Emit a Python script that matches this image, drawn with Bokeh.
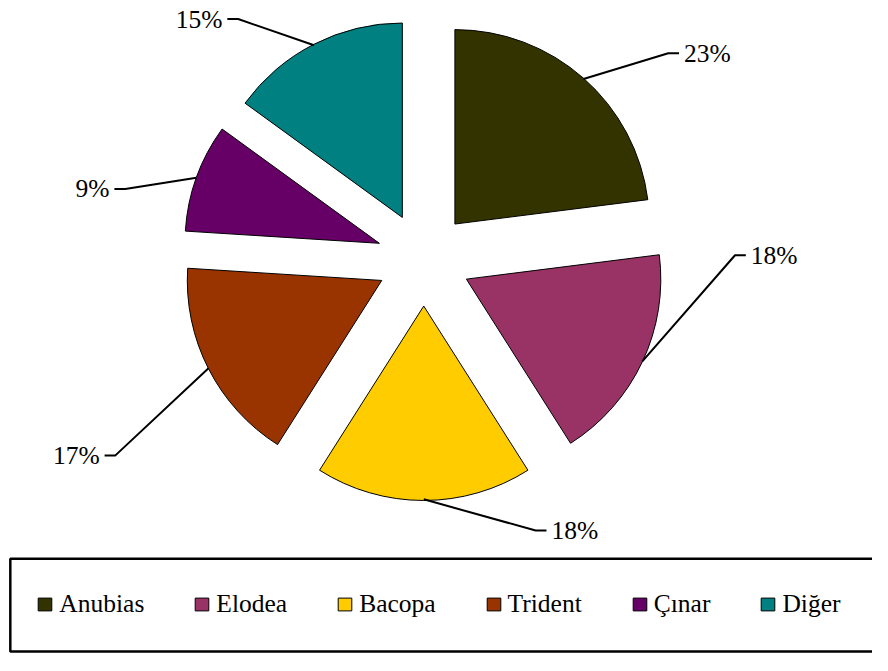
import math
from bokeh.plotting import figure
from bokeh.models import ColumnDataSource, Range1d, Legend, LegendItem
from bokeh.core.properties import value
from bokeh.embed import file_html
from bokeh.resources import INLINE

# ---- data ----
names = ["Anubias", "Elodea", "Bacopa", "Trident", "Çınar", "Diğer"]
shares = [23, 18, 18, 17, 9, 15]
colors = ["#333300", "#993366", "#FFCC00", "#993300", "#660066", "#008080"]

# ---- layout: data units are reference pixels (888 x 671), canvas scaled to fit ----
RW, RH = 888, 671
W, H = 872, 655
SX, SY = W / RW, H / RH
def dx(px): return px
def dy(py): return RH - py

CX, CY = dx(431), dy(265)
R = 198
EXPLODE = 48
# elbow points of the leader lines (reference px)
label_elbows = [(680, 54), (748, 261), (545, 543), (117, 466), (127, 193), (242, 19)]
TICK = 11
GAP = 5
FONT = "Liberation Serif"
FSIZE = "25.5px"

p = figure(width=W, height=H, output_backend="svg", toolbar_location=None,
           x_range=Range1d(0, RW), y_range=Range1d(0, RH),
           min_border=0, outline_line_color=None)
p.axis.visible = False
p.xgrid.visible = False
p.ygrid.visible = False

total = float(sum(shares))
cum = 0.0
xs, ys, starts, ends = [], [], [], []
lx, ly, lalign, ltext = [], [], [], []
leader_xs, leader_ys = [], []
for i, v in enumerate(shares):
    t0 = cum / total * 2 * math.pi
    t1 = (cum + v) / total * 2 * math.pi
    cum += v
    tm = (t0 + t1) / 2
    ex = CX + EXPLODE * math.sin(tm)
    ey = CY + EXPLODE * math.cos(tm)
    xs.append(ex); ys.append(ey)
    starts.append(math.pi / 2 - t1)
    ends.append(math.pi / 2 - t0)
    sx = ex + R * math.sin(tm)
    sy = ey + R * math.cos(tm)
    bx, by = dx(label_elbows[i][0]), dy(label_elbows[i][1])
    right = math.sin(tm) > 0
    tx = bx + TICK if right else bx - TICK
    leader_xs.append([sx, bx, tx]); leader_ys.append([sy, by, by])
    lx.append(tx + GAP if right else tx - GAP)
    ly.append(by)
    lalign.append("left" if right else "right")
    ltext.append(f"{v}%")

src = ColumnDataSource(dict(x=xs, y=ys, start=starts, end=ends, color=colors, name=names))
wr = p.wedge(x="x", y="y", radius=R, start_angle="start", end_angle="end",
             direction="anticlock", fill_color="color", line_color="black",
             line_width=1, source=src)

p.multi_line(xs=leader_xs, ys=leader_ys, line_color="black", line_width=2)

lsrc = ColumnDataSource(dict(x=lx, y=ly, text=ltext, align=lalign))
p.text(x="x", y="y", text="text", text_align="align", text_baseline="middle",
       text_font=value(FONT), text_font_size=FSIZE, text_color="black", source=lsrc)

# legend frame (right side runs off the canvas, as in the reference)
BL, BT, BB = dx(10), dy(572), dy(667)
p.line(x=[RW + 30, BL, BL, RW + 30], y=[BT, BT, BB, BB],
       line_color="black", line_width=2.5)

ITEM_H = 30
items = [LegendItem(label=n, renderers=[wr], index=i) for i, n in enumerate(names)]
legend = Legend(items=items, orientation="horizontal",
                location=(37 * SX, (RH - 619) * SY - ITEM_H / 2),
                border_line_color=None, background_fill_alpha=0,
                padding=0, margin=0, spacing=49,
                glyph_width=17, glyph_height=16, label_standoff=6,
                label_text_font=FONT, label_text_font_size=FSIZE,
                label_text_color="black", label_height=ITEM_H)
p.add_layout(legend)

open("out.html", "w").write(file_html(p, INLINE))
